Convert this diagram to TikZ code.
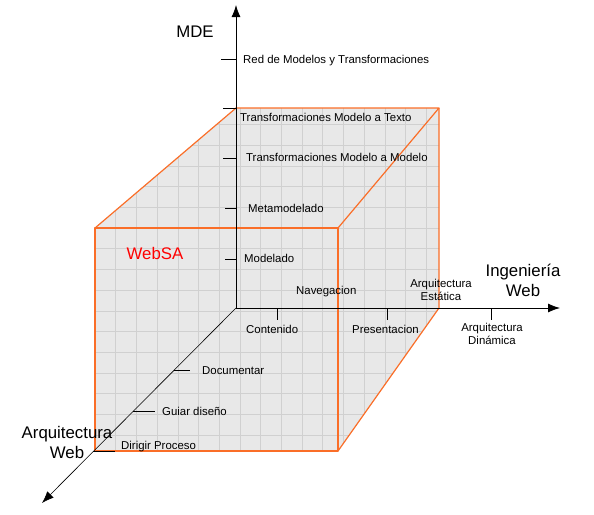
\documentclass[tikz,border=0pt]{standalone}
\usepackage{fontspec}
\setmainfont{Liberation Sans}
\usetikzlibrary{arrows.meta}
\definecolor{edgeorange}{RGB}{250,110,40}
\definecolor{cubefill}{RGB}{232,232,232}
\definecolor{gridgray}{RGB}{208,208,208}
\begin{document}
\begin{tikzpicture}[x=1pt,y=-1pt,
  axis/.style={draw=black,line width=0.8pt,-{Latex[length=12pt,width=9pt]}},
  tick/.style={draw=black,line width=0.8pt},
  edge/.style={draw=edgeorange,line width=1.2pt,line join=round},
  lbl/.style={font=\fontsize{11.4}{13}\selectfont,inner sep=0pt,anchor=base west},
  clbl/.style={font=\fontsize{11.4}{13}\selectfont,inner sep=0pt,align=center},
  big/.style={font=\fontsize{16.8}{20}\selectfont,inner sep=0pt,align=center}]
\useasboundingbox (0,0) rectangle (594,514);
% cube corners
\coordinate (FTL) at (95,228);
\coordinate (FTR) at (338,228);
\coordinate (FBL) at (95,451);
\coordinate (FBR) at (338,451);
\coordinate (BTL) at (236,108);
\coordinate (BTR) at (439,108);
\coordinate (BBR) at (439,308);
\coordinate (O) at (236,308);
% fill and grid
\fill[cubefill] (FTL) -- (BTL) -- (BTR) -- (BBR) -- (FBR) -- (FBL) -- cycle;
\begin{scope}
\clip (FTL) -- (BTL) -- (BTR) -- (BBR) -- (FBR) -- (FBL) -- cycle;
\foreach \i in {-1,...,18} {
  \draw[gridgray,line width=0.6pt] (95+20.7*\i,100) -- (95+20.7*\i,460);
  \draw[gridgray,line width=0.6pt] (90,228+20.7*\i-124.2) -- (450,228+20.7*\i-124.2);
}
\end{scope}
% orange edges
\draw[edge] (FTL) -- (FTR) -- (FBR) -- (FBL) -- cycle;
\draw[edge] (FTL) -- (BTL) -- (BTR) -- (FTR);
\draw[edge] (BTR) -- (BBR) -- (FBR);
% axes
\coordinate (Vtip) at (236,5);
\coordinate (Htip) at (560,308);
\coordinate (Dtip) at (42,503);
\draw[axis] (O) -- (Vtip);
\draw[axis] (O) -- (Htip);
\draw[axis,line width=0.6pt] (O) -- (Dtip);
% vertical ticks
\coordinate (v1) at (236,59);  \coordinate (v1a) at (221,59);
\coordinate (v2) at (236,108); \coordinate (v2a) at (223,108);
\coordinate (v3) at (236,158); \coordinate (v3a) at (223,158);
\coordinate (v4) at (236,208); \coordinate (v4a) at (225,208);
\coordinate (v5) at (236,259); \coordinate (v5a) at (225,259);
\draw[tick] (v1) -- (v1a);
\draw[tick] (v2) -- (v2a);
\draw[tick] (v3) -- (v3a);
\draw[tick] (v4) -- (v4a);
\draw[tick] (v5) -- (v5a);
% horizontal ticks
\coordinate (h1) at (277,308); \coordinate (h1a) at (277,320);
\coordinate (h2) at (387,308); \coordinate (h2a) at (387,320);
\coordinate (h3) at (491,308); \coordinate (h3a) at (491,320);
\draw[tick] (h1) -- (h1a);
\draw[tick] (h2) -- (h2a);
\draw[tick] (h3) -- (h3a);
% diagonal ticks
\coordinate (d1) at (174,370); \coordinate (d1a) at (190,370);
\coordinate (d2) at (133,411); \coordinate (d2a) at (155,411);
\coordinate (d3) at (93,451);  \coordinate (d3a) at (115,451);
\draw[tick] (d1) -- (d1a);
\draw[tick] (d2) -- (d2a);
\draw[tick] (d3) -- (d3a);
% labels
\node[lbl] (t1) at (243,63) {Red de Modelos y Transformaciones};
\node[lbl] (t2) at (240,121) {Transformaciones Modelo a Texto};
\node[lbl] (t3) at (246,161) {Transformaciones Modelo a Modelo};
\node[lbl] (t4) at (248,212) {Metamodelado};
\node[lbl] (t5) at (244,262) {Modelado};
\node[lbl] (t6) at (296,294) {Navegacion};
\node[lbl] (t7) at (246,333) {Contenido};
\node[lbl] (t8) at (352,333) {Presentacion};
\node[clbl] (t9) at (492,334) {Arquitectura\\Dinámica};
\node[clbl] (t10) at (441,289.5) {Arquitectura\\Estática};
\node[lbl] (t11) at (202,374) {Documentar};
\node[lbl] (t12) at (162,415) {Guiar diseño};
\node[lbl] (t13) at (121,449) {Dirigir Proceso};
\node[big] (mde) at (195,32) {MDE};
\node[big] (iw) at (523,280) {Ingeniería\\Web};
\node[big] (aw) at (67,442) {Arquitectura\\Web};
\node[big,text=red] (websa) at (155,253) {WebSA};
\end{tikzpicture}
\end{document}
